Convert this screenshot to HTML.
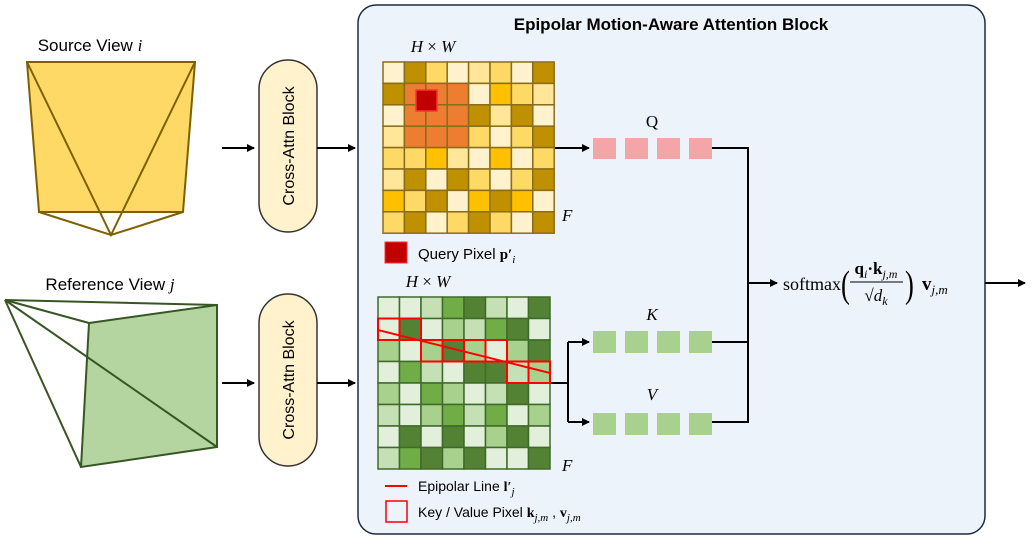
<!DOCTYPE html>
<html><head><meta charset="utf-8"><style>
body{margin:0;width:1033px;height:544px;background:#fff;overflow:hidden;font-family:"Liberation Sans",sans-serif}
</style></head><body>
<svg width="1033" height="544" xmlns="http://www.w3.org/2000/svg">
<defs><marker id="ar" markerWidth="8" markerHeight="8" refX="7" refY="4" orient="auto" markerUnits="userSpaceOnUse"><path d="M0,0 L8,4 L0,8 z" fill="#000"/></marker></defs>
<rect x="358" y="5" width="627" height="529" rx="18" fill="#edf3fa" stroke="#1f2a44" stroke-width="1.5"/>
<text x="671" y="30" text-anchor="middle" font-size="17" font-weight="bold" fill="#000">Epipolar Motion-Aware Attention Block</text>
<text x="90" y="51" text-anchor="middle" font-size="17">Source View <tspan font-family="Liberation Serif" font-style="italic">i</tspan></text>
<polygon points="27,62 195,62 183,212 39,212" fill="#ffd966" stroke="#7f6000" stroke-width="2"/>
<polyline points="27,62 111,235 195,62" fill="none" stroke="#7f6000" stroke-width="2"/>
<polyline points="39,212 111,235 183,212" fill="none" stroke="#7f6000" stroke-width="2"/>
<text x="110" y="290" text-anchor="middle" font-size="17">Reference View <tspan font-family="Liberation Serif" font-style="italic">j</tspan></text>
<polygon points="89,323 217,305 217,447 81,467" fill="#b5d5a0" stroke="#375623" stroke-width="2"/>
<g stroke="#375623" stroke-width="2" fill="none"><line x1="5" y1="300" x2="217" y2="305"/><line x1="5" y1="300" x2="89" y2="323"/><line x1="5" y1="300" x2="217" y2="447"/><line x1="5" y1="300" x2="81" y2="467"/></g>
<rect x="259" y="60" width="58" height="172" rx="29" fill="#fff2cc" stroke="#333" stroke-width="1.5"/>
<rect x="259" y="294" width="58" height="172" rx="29" fill="#fff2cc" stroke="#333" stroke-width="1.5"/>
<text transform="translate(294,146) rotate(-90)" text-anchor="middle" font-size="16">Cross-Attn Block</text>
<text transform="translate(294,380) rotate(-90)" text-anchor="middle" font-size="16">Cross-Attn Block</text>
<g stroke="#000" stroke-width="2" fill="none">
<line x1="222" y1="148" x2="254" y2="148" marker-end="url(#ar)"/>
<line x1="317" y1="148" x2="355" y2="148" marker-end="url(#ar)"/>
<line x1="222" y1="383" x2="254" y2="383" marker-end="url(#ar)"/>
<line x1="317" y1="383" x2="355" y2="383" marker-end="url(#ar)"/>
<line x1="554" y1="148" x2="589" y2="148" marker-end="url(#ar)"/>
<line x1="550" y1="383" x2="568" y2="383"/>
<line x1="568" y1="342" x2="568" y2="422"/>
<line x1="568" y1="342" x2="589" y2="342" marker-end="url(#ar)"/>
<line x1="568" y1="422" x2="589" y2="422" marker-end="url(#ar)"/>
<line x1="712" y1="148" x2="748" y2="148"/>
<line x1="712" y1="342" x2="748" y2="342"/>
<line x1="712" y1="422" x2="748" y2="422"/>
<line x1="748" y1="147" x2="748" y2="423"/>
<line x1="748" y1="283" x2="777" y2="283" marker-end="url(#ar)"/>
<line x1="985" y1="283" x2="1025" y2="283" marker-end="url(#ar)"/>
</g>
<g id="top"></g><g id="bot"></g>
<text x="433" y="52" text-anchor="middle" font-family="Liberation Serif" font-size="17"><tspan font-style="italic">H</tspan> × <tspan font-style="italic">W</tspan></text>
<text x="428" y="287" text-anchor="middle" font-family="Liberation Serif" font-size="17"><tspan font-style="italic">H</tspan> × <tspan font-style="italic">W</tspan></text>
<text x="562" y="221" font-family="Liberation Serif" font-style="italic" font-size="17">F</text>
<text x="562" y="471" font-family="Liberation Serif" font-style="italic" font-size="17">F</text>
<text x="652" y="127" text-anchor="middle" font-family="Liberation Serif" font-size="17">Q</text>
<text x="652" y="320" text-anchor="middle" font-family="Liberation Serif" font-style="italic" font-size="17">K</text>
<text x="652" y="400" text-anchor="middle" font-family="Liberation Serif" font-style="italic" font-size="17">V</text>
<g fill="#f4a6a6"><rect x="593" y="138" width="23" height="21"/><rect x="625" y="138" width="23" height="21"/><rect x="657" y="138" width="23" height="21"/><rect x="689" y="138" width="23" height="21"/></g>
<g fill="#a9d18e"><rect x="593" y="331" width="23" height="22"/><rect x="625" y="331" width="23" height="22"/><rect x="657" y="331" width="23" height="22"/><rect x="689" y="331" width="23" height="22"/>
<rect x="593" y="413" width="23" height="22"/><rect x="625" y="413" width="23" height="22"/><rect x="657" y="413" width="23" height="22"/><rect x="689" y="413" width="23" height="22"/></g>
<text x="783" y="290" font-family="Liberation Serif" font-size="18">softmax</text>
<text x="841" y="297" font-family="Liberation Serif" font-size="38" transform="translate(841,297) scale(0.7,1) translate(-841,-297)">(</text>
<text x="876" y="274" text-anchor="middle" font-family="Liberation Serif" font-size="17" font-weight="bold">q<tspan font-weight="normal" font-style="italic" font-size="12" dy="4">i</tspan><tspan dy="-4">·k</tspan><tspan font-weight="normal" font-style="italic" font-size="12" dy="4">j,m</tspan></text>
<line x1="850" y1="282" x2="903" y2="282" stroke="#000" stroke-width="1"/>
<text x="876" y="301" text-anchor="middle" font-family="Liberation Serif" font-size="17">√<tspan font-style="italic">d</tspan><tspan font-style="italic" font-size="12" dy="4">k</tspan></text>
<text x="905" y="297" font-family="Liberation Serif" font-size="38" transform="translate(905,297) scale(0.7,1) translate(-905,-297)">)</text>
<text x="922" y="290" font-family="Liberation Serif" font-size="19" font-weight="bold">v<tspan font-weight="normal" font-style="italic" font-size="13" dy="4">j,m</tspan></text>
<rect x="385" y="242" width="22" height="21" fill="#c00000" stroke="#ff3030"/>
<text x="418" y="259" font-size="15">Query Pixel <tspan font-family="Liberation Serif" font-weight="bold">p′</tspan><tspan font-family="Liberation Serif" font-style="italic" font-size="11" dy="4">i</tspan></text>
<line x1="385" y1="486" x2="407" y2="486" stroke="#ff0000" stroke-width="2"/>
<text x="418" y="491" font-size="14">Epipolar Line <tspan font-family="Liberation Serif" font-weight="bold">l′</tspan><tspan font-family="Liberation Serif" font-style="italic" font-size="11" dy="4">j</tspan></text>
<rect x="386" y="501" width="21" height="21" fill="none" stroke="#ff0000" stroke-width="1.5"/>
<text x="418" y="517" font-size="14">Key / Value Pixel <tspan font-family="Liberation Serif" font-weight="bold">k</tspan><tspan font-family="Liberation Serif" font-style="italic" font-size="11" dy="4">j,m</tspan><tspan dy="-4"> , </tspan><tspan font-family="Liberation Serif" font-weight="bold">v</tspan><tspan font-family="Liberation Serif" font-style="italic" font-size="11" dy="4">j,m</tspan></text>
</svg>
<script>
const NS="http://www.w3.org/2000/svg";
function grid(id,x0,y0,cs,rows,map,stroke){const g=document.getElementById(id);
rows.forEach((r,i)=>r.split(' ').forEach((c,j)=>{const e=document.createElementNS(NS,'rect');
e.setAttribute('x',x0+j*cs);e.setAttribute('y',y0+i*cs);e.setAttribute('width',cs);e.setAttribute('height',cs);
e.setAttribute('fill',map[c]);e.setAttribute('stroke',stroke);e.setAttribute('stroke-width','1.5');g.appendChild(e);}));return g;}
const tm={W:'#fff2cc',D:'#bf9000',Y:'#ffd966',L:'#ffe699',O:'#ffc000',R:'#ed7d31'};
const g1=grid('top',383,62,21.4,["W D Y W L Y W D","D R R R W O Y L","W R R R D L D W","L R R R Y W Y D","Y Y O L W O W Y","L D W D Y W Y D","O Y D W O D O W","Y D W Y D Y W D"],tm,'#8a6d1a');
const q=document.createElementNS(NS,'rect');q.setAttribute('x',416);q.setAttribute('y',90);q.setAttribute('width',21);q.setAttribute('height',21);q.setAttribute('fill','#c00000');q.setAttribute('stroke','#ff3030');q.setAttribute('stroke-width','1.5');g1.appendChild(q);
const bm={a:'#e2efda',b:'#c5e0b4',c:'#a9d18e',d:'#70ad47',e:'#548235'};
const g2=grid('bot',378,297,21.5,["a a b d e b a e","a e a c b d e a","c a c e c a c e","a d b a e e b c","c a d c a b e a","b a c d b d a c","a e a e a c e a","b d e c e a a e"],bm,'#3f6a2a');
[[1,0,2],[2,2,4],[3,6,2]].forEach(([r,c,n])=>{const e=document.createElementNS(NS,'rect');e.setAttribute('x',378+c*21.5);e.setAttribute('y',297+r*21.5);e.setAttribute('width',21.5*n);e.setAttribute('height',21.5);e.setAttribute('fill','none');e.setAttribute('stroke','#ff0000');e.setAttribute('stroke-width','2');g2.appendChild(e);
for(let k=1;k<n;k++){const l=document.createElementNS(NS,'line');l.setAttribute('x1',378+(c+k)*21.5);l.setAttribute('x2',378+(c+k)*21.5);l.setAttribute('y1',297+r*21.5);l.setAttribute('y2',297+(r+1)*21.5);l.setAttribute('stroke','#ff0000');l.setAttribute('stroke-width','2');g2.appendChild(l);}});
const l=document.createElementNS(NS,'line');l.setAttribute('x1',378);l.setAttribute('y1',330);l.setAttribute('x2',550);l.setAttribute('y2',373);l.setAttribute('stroke','#ff0000');l.setAttribute('stroke-width','2');g2.appendChild(l);
</script>
</body></html>
